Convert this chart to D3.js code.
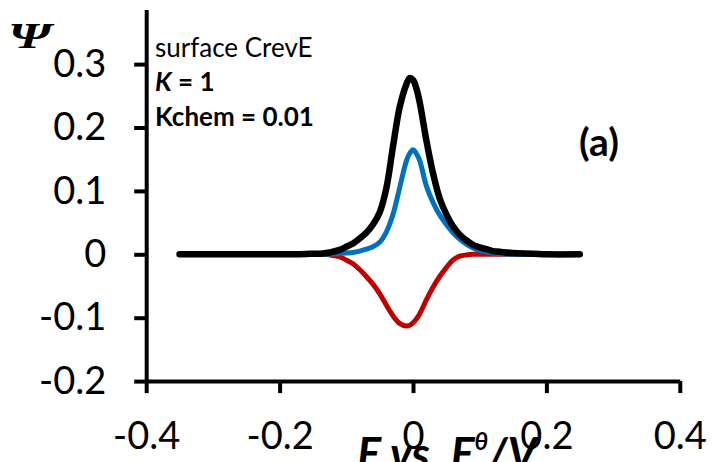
<!DOCTYPE html>
<html>
<head>
<meta charset="utf-8">
<script src="https://cdn.jsdelivr.net/npm/d3@7"></script>
<style>
  html, body { margin: 0; padding: 0; background: #fff; }
  svg { display: block; }
  .tick text { font-family: Lato, "Open Sans", sans-serif; }
</style>
</head>
<body>
<svg id="chart" width="718" height="462"></svg>
<script>
// Potential grid (V) shared by all three curves
const potential = [-0.35, -0.30, -0.25, -0.20, -0.18, -0.16, -0.15, -0.14, -0.13, -0.12,
  -0.11, -0.10, -0.09, -0.08, -0.07, -0.06, -0.05, -0.04, -0.03, -0.02,
  -0.01, -0.005, 0.00, 0.005, 0.01, 0.02, 0.03, 0.04, 0.05, 0.06,
  0.07, 0.08, 0.09, 0.10, 0.11, 0.12, 0.13, 0.15, 0.18, 0.20, 0.25];

// Forward component
const psiForward = [0, 0, 0, 0, 0, 0, 0, 0, 0, 0.001,
  0.0015, 0.002, 0.003, 0.005, 0.008, 0.012, 0.019, 0.035, 0.063, 0.105,
  0.147, 0.159, 0.165, 0.159, 0.148, 0.108, 0.082, 0.062, 0.047, 0.034,
  0.024, 0.016, 0.010, 0.006, 0.004, 0.002, 0.001, 0, 0, 0, 0];

// Backward component
const psiBackward = [0, 0, 0, 0, 0, 0, 0, 0, -0.0005, -0.002,
  -0.004, -0.009, -0.015, -0.024, -0.035, -0.047, -0.062, -0.080, -0.097, -0.109,
  -0.113, -0.112, -0.108, -0.102, -0.094, -0.072, -0.052, -0.035, -0.021, -0.009,
  -0.003, -0.001, 0, 0, 0, 0, 0, 0, 0, 0, 0];

// Net response
const psiNet = [0, 0, 0, 0, 0, 0.0005, 0.001, 0.001, 0.002, 0.004,
  0.007, 0.012, 0.017, 0.025, 0.034, 0.047, 0.066, 0.104, 0.170, 0.232,
  0.268, 0.278, 0.275, 0.262, 0.240, 0.180, 0.128, 0.088, 0.063, 0.044,
  0.031, 0.022, 0.015, 0.011, 0.008, 0.005, 0.004, 0.002, 0.001, 0, 0];

const xTicks = [-0.4, -0.2, 0, 0.2, 0.4];
const xTickLabels = ["-0.4", "-0.2", "0", "0.2", "0.4"];
const yTicks = [-0.2, -0.1, 0, 0.1, 0.2, 0.3];
const yTickLabels = ["-0.2", "-0.1", "0", "0.1", "0.2", "0.3"];

const svg = d3.select("#chart");

const x = d3.scaleLinear().domain([-0.4, 0.4]).range([146.2, 679.8]);
const y = d3.scaleLinear().domain([-0.2, 0.386]).range([381.1, 9.6]);

// Axes
const yAxis = d3.axisLeft(y)
  .tickValues(yTicks)
  .tickFormat((d, i) => yTickLabels[i])
  .tickSize(12)
  .tickSizeOuter(0)
  .tickPadding(28);

const xAxis = d3.axisBottom(x)
  .tickValues(xTicks)
  .tickFormat((d, i) => xTickLabels[i])
  .tickSize(12)
  .tickSizeOuter(0)
  .tickPadding(29);

const gy = svg.append("g")
  .attr("transform", `translate(${x(-0.4)},0)`)
  .call(yAxis);
const gx = svg.append("g")
  .attr("transform", `translate(0,${y(-0.2)})`)
  .call(xAxis);

[gx, gy].forEach(g => {
  g.select(".domain").attr("stroke", "#000").attr("stroke-width", 4);
  g.selectAll(".tick line").attr("stroke", "#000").attr("stroke-width", 4);
  g.selectAll(".tick text")
    .attr("fill", "#000")
    .style("font-size", "38px");
});

// Curves
const series = [
  { values: psiBackward, color: "#C00000", width: 5 },
  { values: psiForward, color: "#0070C0", width: 5 },
  { values: psiNet, color: "#000000", width: 6.5 }
];

const line = d3.line()
  .x(d => x(d[0]))
  .y(d => y(d[1]))
  .curve(d3.curveCatmullRom.alpha(0.5));

series.forEach(s => {
  svg.append("path")
    .datum(potential.map((e, i) => [e, s.values[i]]))
    .attr("fill", "none")
    .attr("stroke", s.color)
    .attr("stroke-width", s.width)
    .attr("stroke-linejoin", "round")
    .attr("stroke-linecap", "round")
    .attr("d", line);
});

// Y axis symbol
svg.append("text")
  .attr("transform", "translate(8,48) scale(1.5,1)")
  .attr("font-family", "'Liberation Serif', 'DejaVu Serif', serif")
  .attr("font-weight", "bold")
  .attr("font-style", "italic")
  .attr("font-size", 36)
  .attr("fill", "#000")
  .text("Ψ");

// Annotation block
const note = svg.append("g")
  .attr("font-family", "Lato, 'Open Sans', sans-serif")
  .attr("fill", "#000");

note.append("text")
  .attr("x", 155).attr("y", 57)
  .attr("font-size", 26)
  .text("surface CrevE");

const k = note.append("text")
  .attr("x", 155).attr("y", 91)
  .attr("font-size", 26)
  .attr("font-weight", "bold");
k.append("tspan").attr("font-style", "italic").text("K");
k.append("tspan").text(" = 1");

note.append("text")
  .attr("x", 155).attr("y", 126)
  .attr("font-size", 26)
  .attr("font-weight", "bold")
  .text("Kchem = 0.01");

// Panel tag
svg.append("text")
  .attr("x", 599).attr("y", 156)
  .attr("text-anchor", "middle")
  .attr("font-family", "Lato, 'Open Sans', sans-serif")
  .attr("font-weight", "bold")
  .attr("font-size", 39)
  .attr("fill", "#000")
  .text("(a)");

// X axis title
const xt = svg.append("text")
  .attr("x", 357).attr("y", 470)
  .attr("font-family", "Lato, 'Open Sans', sans-serif")
  .attr("font-weight", "bold")
  .attr("font-style", "italic")
  .attr("font-size", 45)
  .attr("fill", "#000");
xt.append("tspan").text("E vs. E");
xt.append("tspan").attr("font-size", 24).attr("dy", -20).text("θ");
xt.append("tspan").attr("dy", 20).text("/V");
</script>
</body>
</html>
